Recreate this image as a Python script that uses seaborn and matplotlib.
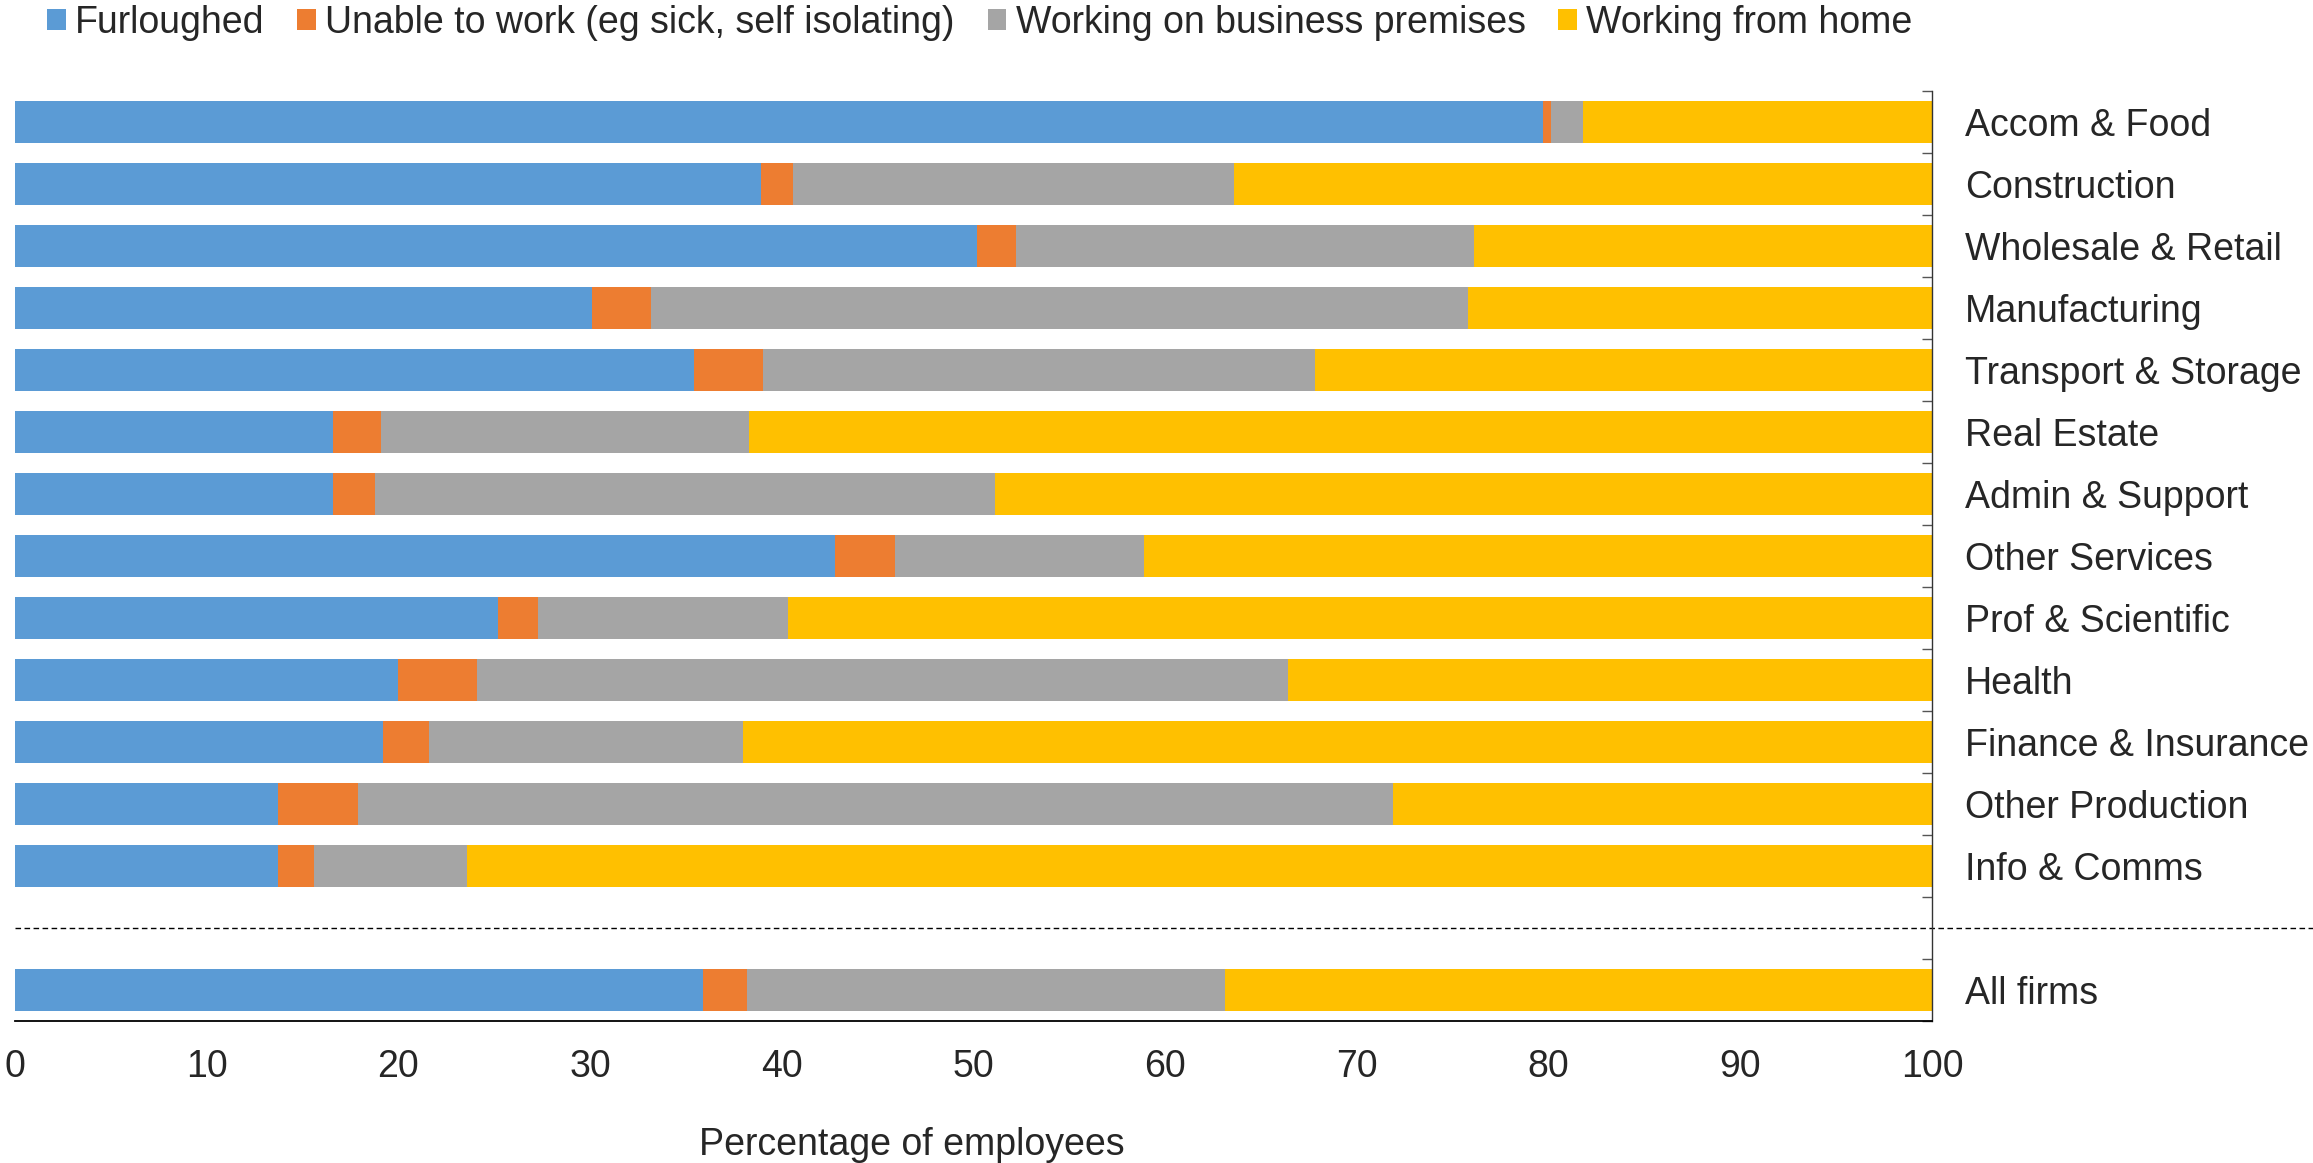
import numpy as np
import pandas as pd
import matplotlib.pyplot as plt
import seaborn as sns
from matplotlib.patches import Patch
from matplotlib.ticker import FixedLocator

sns.set_style("white")
plt.rcParams['font.family'] = ['Liberation Sans', 'DejaVu Sans']

# Sectors from top to bottom ("All firms" sits below a gap)
sectors = ["Accom & Food", "Construction", "Wholesale & Retail", "Manufacturing",
           "Transport & Storage", "Real Estate", "Admin & Support", "Other Services",
           "Prof & Scientific", "Health", "Finance & Insurance", "Other Production",
           "Info & Comms", "All firms"]

# Percentage of employees in each status
furloughed = [79.7, 38.9, 50.2, 30.1, 35.4, 16.6, 16.6, 42.8, 25.2, 20.0, 19.2, 13.7, 13.7, 35.9]
unable = [0.4, 1.7, 2.0, 3.1, 3.6, 2.5, 2.2, 3.1, 2.1, 4.1, 2.4, 4.2, 1.9, 2.3]
premises = [1.7, 23.0, 23.9, 42.6, 28.8, 19.2, 32.3, 13.0, 13.0, 42.3, 16.4, 54.0, 8.0, 24.9]
home = [18.2, 36.4, 23.9, 24.2, 32.2, 61.7, 48.9, 41.1, 59.7, 33.6, 62.0, 28.1, 76.4, 36.9]

series_names = ["Furloughed", "Unable to work (eg sick, self isolating)",
                "Working on business premises", "Working from home"]
colors = ["#5B9BD5", "#ED7D31", "#A5A5A5", "#FFC000"]

df = pd.DataFrame({"sector": sectors, "Furloughed": furloughed, "Unable": unable,
                   "Premises": premises, "Home": home})
df["c1"] = df["Furloughed"]
df["c2"] = df["c1"] + df["Unable"]
df["c3"] = df["c2"] + df["Premises"]
df["c4"] = df["c3"] + df["Home"]

# leave an empty slot before "All firms"
order = sectors[:-1] + [" "] + sectors[-1:]

fs = 27

fig = plt.figure(figsize=(23.13, 11.63), dpi=100)
ax = fig.add_axes([15 / 2313, 1 - 1021 / 1163, 1917 / 2313, 930 / 1163])

for col, c in zip(["c4", "c3", "c2", "c1"], colors[::-1]):
    sns.barplot(data=df, x=col, y="sector", order=order, color=c, width=0.67,
                orient="h", linewidth=0, saturation=1, ax=ax)

ax.set_xlim(0, 100)
ax.set_ylim(len(order) - 0.5, -0.5)
ax.set_xticks(np.arange(0, 101, 10))
ax.tick_params(axis="x", direction="in", length=8.5, width=1, color="#555555",
               labelsize=fs, pad=20)

ax.yaxis.tick_right()
ax.set_yticks(range(len(order)))
ax.set_yticklabels(order)
ax.yaxis.set_minor_locator(FixedLocator(np.arange(-0.5, len(order), 1)))
ax.tick_params(axis="y", which="major", length=0, labelsize=fs, pad=24)
ax.tick_params(axis="y", which="minor", direction="in", length=7.5, width=1,
               color="#555555", right=True, left=False)

for s in ["left", "top"]:
    ax.spines[s].set_visible(False)
ax.spines["right"].set_color("#333333")
ax.spines["right"].set_linewidth(1)
ax.spines["bottom"].set_color("black")
ax.spines["bottom"].set_linewidth(1.3)

ax.set_ylabel("")
ax.set_xlabel("Percentage of employees", fontsize=fs)
ax.xaxis.set_label_coords(0.468, -0.133)
ax.xaxis.label.set_va("center")

# dashed separator before "All firms"
ax.axhline(order.index(" "), xmin=0, xmax=(2313 - 15) / 1917, clip_on=False,
           color="black", lw=1, ls=(0, (4, 2.5)))

handles = [Patch(facecolor=c, edgecolor="none") for c in colors]
fig.legend(handles, series_names, loc="center left", ncol=4, frameon=False,
           bbox_to_anchor=(47 / 2313, 1 - 23 / 1163), fontsize=fs,
           handlelength=0.5, handleheight=0.5, handletextpad=0.25,
           columnspacing=0.87, borderpad=0, borderaxespad=0)

fig.savefig("out.png", dpi=100)
